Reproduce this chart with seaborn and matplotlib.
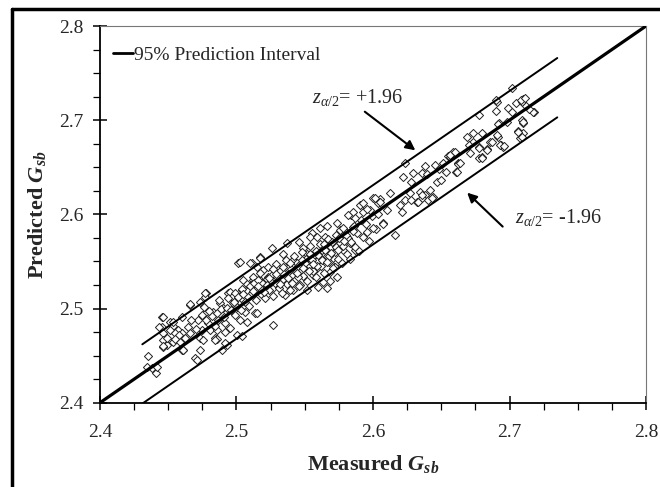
import pandas as pd
import seaborn as sns
import matplotlib.pyplot as plt
from matplotlib.lines import Line2D

# Measured vs predicted Gsb (grouped by region)
low_pts = [
    (2.4452, 2.4913), (2.4513, 2.486), (2.4452, 2.4807), (2.4464, 2.4737), (2.4537, 2.4814),
    (2.4598, 2.4913), (2.4659, 2.5037), (2.4733, 2.5072), (2.4777, 2.5161), (2.4769, 2.5125),
    (2.4573, 2.4772), (2.4598, 2.4737), (2.4647, 2.4807), (2.4659, 2.4737), (2.4464, 2.4666),
    (2.4488, 2.4613), (2.4464, 2.4594), (2.4537, 2.4648), (2.4586, 2.4648), (2.461, 2.4559),
    (2.472, 2.4878), (2.4744, 2.4772), (2.4733, 2.4684), (2.4757, 2.4666), (2.4793, 2.4843),
    (2.4806, 2.4772), (2.4842, 2.4684), (2.4854, 2.4772), (2.4879, 2.5055), (2.494, 2.5161),
    (2.4952, 2.5178), (2.4964, 2.5125), (2.4903, 2.5002), (2.483, 2.4966), (2.4769, 2.4955),
    (2.4866, 2.4878), (2.4916, 2.4843), (2.4916, 2.4754), (2.4891, 2.4559), (2.4989, 2.4931),
    (2.5001, 2.5019), (2.5062, 2.4966), (2.5026, 2.4878), (2.5074, 2.486), (2.4976, 2.5055),
    (2.505, 2.509), (2.5099, 2.5196), (2.5037, 2.5196), (2.5123, 2.5302), (2.5136, 2.4949),
    (2.4733, 2.4559), (2.4696, 2.4471), (2.4708, 2.4453), (2.4354, 2.4496), (2.4342, 2.4382),
    (2.4378, 2.4365), (2.441, 2.4318), (2.4415, 2.4382), (2.4459, 2.4906), (2.4434, 2.48),
    (2.5013, 2.5486), (2.5111, 2.548), (2.5172, 2.5544), (2.4769, 2.5168), (2.4659, 2.5045),
    (2.5264, 2.4825), (2.4854, 2.4673), (2.4928, 2.4613), (2.5001, 2.4719), (2.5037, 2.4708),
    (2.4537, 2.486), (2.4513, 2.4772), (2.4549, 2.4737), (2.4598, 2.4559), (2.4488, 2.4684),
    (2.4464, 2.4602), (2.4916, 2.463), (2.4842, 2.4666), (2.4605, 2.4559), (2.5148, 2.4949),
    (2.4952, 2.479), (2.478, 2.488), (2.482, 2.492), (2.486, 2.495), (2.489, 2.499),
    (2.493, 2.501), (2.496, 2.498), (2.498, 2.507), (2.484, 2.481), (2.480, 2.497),
    (2.491, 2.491), (2.470, 2.478), (2.467, 2.488), (2.475, 2.493), (2.462, 2.469),
    (2.458, 2.472), (2.455, 2.468), (2.494, 2.511), (2.487, 2.509), (2.499, 2.517),
    (2.476, 2.502),
]

core_pts = [
    (2.5839, 2.5993), (2.5734, 2.5904), (2.5665, 2.5876), (2.5612, 2.5851), (2.555, 2.5798),
    (2.5538, 2.5762), (2.5591, 2.5756), (2.546, 2.571), (2.5367, 2.5699), (2.5257, 2.564),
    (2.5172, 2.5533), (2.5099, 2.548), (2.5026, 2.5497), (2.5856, 2.5868), (2.5807, 2.5762),
    (2.5868, 2.562), (2.5734, 2.5497), (2.5721, 2.5444), (2.5734, 2.5338), (2.5685, 2.5295),
    (2.5635, 2.5284), (2.5562, 2.5356), (2.5465, 2.5249), (2.5392, 2.5302), (2.5355, 2.5143),
    (2.527, 2.5214), (2.5232, 2.5338), (2.5172, 2.5302), (2.5123, 2.5268), (2.505, 2.5302),
    (2.5074, 2.5196), (2.5343, 2.5584), (2.5416, 2.5515), (2.5513, 2.5584), (2.5624, 2.5584),
    (2.566, 2.5515), (2.5538, 2.548), (2.5465, 2.5444), (2.5294, 2.5444), (2.5196, 2.5409),
    (2.5319, 2.5373), (2.5587, 2.5426), (2.5685, 2.539), (2.5758, 2.571), (2.5782, 2.562),
    (2.5831, 2.5692), (2.5685, 2.5692), (2.5648, 2.5762), (2.549, 2.5639), (2.5148, 2.5444),
    (2.5416, 2.5196), (2.5513, 2.5196), (2.5599, 2.5231), (2.566, 2.5214),
    (2.501, 2.512), (2.503, 2.498), (2.504, 2.521), (2.506, 2.507), (2.508, 2.526),
    (2.509, 2.503), (2.511, 2.516), (2.512, 2.534), (2.514, 2.509), (2.515, 2.522),
    (2.517, 2.538), (2.518, 2.515), (2.519, 2.527), (2.521, 2.511), (2.522, 2.531),
    (2.523, 2.544), (2.524, 2.520), (2.526, 2.536), (2.527, 2.513), (2.528, 2.527),
    (2.529, 2.547), (2.531, 2.522), (2.532, 2.540), (2.533, 2.517), (2.534, 2.531),
    (2.536, 2.552), (2.537, 2.526), (2.538, 2.543), (2.539, 2.520), (2.541, 2.535),
    (2.542, 2.556), (2.543, 2.530), (2.544, 2.548), (2.546, 2.524), (2.547, 2.541),
    (2.548, 2.560), (2.549, 2.535), (2.551, 2.553), (2.552, 2.529), (2.553, 2.546),
    (2.554, 2.566), (2.556, 2.540), (2.557, 2.557), (2.558, 2.533), (2.559, 2.550),
    (2.561, 2.569), (2.562, 2.545), (2.563, 2.562), (2.564, 2.538), (2.566, 2.556),
    (2.567, 2.574), (2.568, 2.549), (2.569, 2.565), (2.571, 2.543), (2.572, 2.560),
    (2.573, 2.578), (2.574, 2.553), (2.576, 2.570), (2.577, 2.548), (2.578, 2.566),
    (2.579, 2.583), (2.581, 2.558), (2.582, 2.575), (2.583, 2.553), (2.584, 2.571),
    (2.586, 2.588), (2.587, 2.565), (2.588, 2.580), (2.590, 2.561), (2.591, 2.594),
    (2.593, 2.576), (2.595, 2.590), (2.597, 2.572), (2.599, 2.598), (2.602, 2.584),
    (2.604, 2.600), (2.505, 2.515), (2.510, 2.524), (2.513, 2.527), (2.516, 2.530),
    (2.520, 2.518), (2.525, 2.528), (2.530, 2.533), (2.535, 2.537), (2.540, 2.542),
    (2.545, 2.545), (2.550, 2.548), (2.555, 2.552), (2.560, 2.557), (2.565, 2.562),
    (2.570, 2.571), (2.575, 2.575), (2.580, 2.578), (2.585, 2.582), (2.527, 2.542),
    (2.532, 2.526), (2.545, 2.533), (2.553, 2.540), (2.558, 2.561), (2.563, 2.552),
    (2.568, 2.556), (2.573, 2.565), (2.548, 2.552), (2.538, 2.532), (2.518, 2.521),
    (2.522, 2.525), (2.524, 2.532), (2.529, 2.537), (2.534, 2.544), (2.539, 2.548),
    (2.544, 2.538), (2.549, 2.543), (2.554, 2.558), (2.559, 2.545), (2.564, 2.568),
    (2.569, 2.559), (2.574, 2.562), (2.579, 2.572), (2.516, 2.524), (2.512, 2.519),
    (2.541, 2.527), (2.556, 2.547), (2.566, 2.549), (2.576, 2.583),
]

mid_pts = [
    (2.622, 2.640), (2.6295, 2.6435), (2.638, 2.651), (2.6454, 2.652), (2.648, 2.6478),
    (2.6535, 2.645), (2.655, 2.662), (2.6356, 2.6435), (2.6397, 2.6428), (2.628, 2.6346),
    (2.647, 2.6346), (2.650, 2.637), (2.6125, 2.6223), (2.627, 2.6223), (2.6344, 2.624),
    (2.638, 2.6205), (2.6418, 2.6258), (2.6356, 2.617), (2.632, 2.6134), (2.6405, 2.615),
    (2.644, 2.6187), (2.6198, 2.6099), (2.621, 2.6028), (2.6234, 2.615), (2.600, 2.617),
    (2.605, 2.616), (2.604, 2.6117), (2.5978, 2.6046), (2.610, 2.6046), (2.5905, 2.6099),
    (2.5929, 2.6028), (2.5856, 2.6028), (2.582, 2.5993), (2.5868, 2.5958), (2.6075, 2.5904),
    (2.600, 2.5851), (2.5953, 2.5815), (2.578, 2.5851), (2.616, 2.578), (2.6015, 2.617),
    (2.605, 2.6134), (2.5953, 2.6053), (2.5929, 2.6117), (2.6075, 2.5897), (2.628, 2.615),
    (2.6332, 2.6134), (2.6356, 2.6205), (2.6429, 2.617),
]

high_pts = [
    (2.7015, 2.7337), (2.6906, 2.7195), (2.690, 2.710), (2.678, 2.706), (2.699, 2.7125),
    (2.705, 2.718), (2.7096, 2.723), (2.709, 2.7195), (2.702, 2.709), (2.718, 2.709),
    (2.6925, 2.6966), (2.698, 2.698), (2.709, 2.700), (2.710, 2.697), (2.7065, 2.688),
    (2.710, 2.6866), (2.7077, 2.6807), (2.680, 2.686), (2.6686, 2.6817), (2.6735, 2.677),
    (2.670, 2.6736), (2.6857, 2.677), (2.6918, 2.682), (2.694, 2.6736), (2.6955, 2.671),
    (2.6778, 2.671), (2.6832, 2.669), (2.678, 2.6594), (2.6588, 2.6665), (2.6564, 2.661),
    (2.6625, 2.654), (2.6514, 2.654), (2.690, 2.721), (2.717, 2.709), (2.673, 2.686),
    (2.6795, 2.661), (2.6234, 2.6548), (2.6564, 2.663), (2.660, 2.6665), (2.6625, 2.6534),
    (2.661, 2.645), (2.6612, 2.6452), (2.6637, 2.6548), (2.6711, 2.6648), (2.6869, 2.677),
    (2.693, 2.6736), (2.696, 2.6725), (2.6918, 2.6959), (2.710, 2.698), (2.7064, 2.6877),
    (2.709, 2.6824), (2.714, 2.712), (2.712, 2.7155), (2.7085, 2.721), (2.711, 2.724),
    (2.678, 2.670), (2.6832, 2.6683), (2.6906, 2.6842), (2.6795, 2.6594),
]

# reference lines
line_x = [2.4, 2.8]
pi_x = [2.431, 2.735]
pi_upper_offset = 0.031
pi_lower_offset = -0.032

points = low_pts + core_pts + mid_pts + high_pts
df = pd.DataFrame(points, columns=["Measured", "Predicted"])

sns.set_style("ticks")
plt.rcParams["font.family"] = ["Liberation Serif", "DejaVu Serif"]
plt.rcParams["mathtext.fontset"] = "custom"
plt.rcParams["mathtext.rm"] = "Liberation Serif"
plt.rcParams["mathtext.it"] = "Liberation Serif:italic"
plt.rcParams["mathtext.bf"] = "Liberation Serif:bold"
plt.rcParams["mathtext.bfit"] = "Liberation Serif:italic:bold"

fig = plt.figure(figsize=(6.6, 4.87), dpi=100)
ax = fig.add_axes([0.1515, 0.1731, 0.8273, 0.7735])

sns.scatterplot(data=df, x="Measured", y="Predicted", marker="D", s=17,
                facecolor="white", edgecolor="#222222", linewidth=0.7, ax=ax, zorder=2)

ax.plot(line_x, line_x, color="black", lw=2.3, zorder=3)
ax.plot(pi_x, [v + pi_upper_offset for v in pi_x], color="black", lw=1.4, zorder=3)
ax.plot(pi_x, [v + pi_lower_offset for v in pi_x], color="black", lw=1.4, zorder=3)

ax.set_xlim(2.4, 2.8)
ax.set_ylim(2.4, 2.8)
ax.set_xticks([2.4, 2.5, 2.6, 2.7, 2.8])
ax.set_yticks([2.4, 2.5, 2.6, 2.7, 2.8])
minor = [2.425, 2.45, 2.475, 2.525, 2.55, 2.575, 2.625, 2.65, 2.675, 2.725, 2.75, 2.775]
ax.set_xticks(minor, minor=True)
ax.set_yticks(minor, minor=True)
ax.tick_params(which="major", direction="inout", length=10, width=1.1, labelsize=14, color="black")
ax.tick_params(axis="x", which="major", pad=10)
ax.tick_params(axis="y", which="major", pad=7)
ax.tick_params(which="minor", direction="out", length=5, width=0.9, color="black")

for side in ["left", "bottom"]:
    ax.spines[side].set_color("black")
    ax.spines[side].set_linewidth(1.3)
for side in ["top", "right"]:
    ax.spines[side].set_color("#777777")
    ax.spines[side].set_linewidth(0.8)

ax.set_xlabel(r"Measured $\mathbfit{G}_{\mathbfit{sb}}$", fontsize=16, fontweight="bold", labelpad=9)
ax.set_ylabel(r"Predicted $\mathbfit{G}_{\mathbfit{sb}}$", fontsize=16, fontweight="bold", labelpad=8)

handle = Line2D([], [], color="black", lw=2)
ax.legend(handles=[handle], labels=["95% Prediction Interval"], loc="upper left",
          bbox_to_anchor=(-0.008, 0.992), frameon=False, fontsize=14, handlelength=1.0,
          handletextpad=0.05, borderaxespad=0.5)

ax.text(2.555, 2.7245, r"$z_{\alpha/2}$= +1.96", fontsize=14.5, va="center", ha="left")
ax.text(2.704, 2.597, r"$z_{\alpha/2}$= -1.96", fontsize=14.5, va="center", ha="left")
ax.annotate("", xy=(2.631, 2.668), xytext=(2.594, 2.709),
            arrowprops=dict(arrowstyle="-|>", color="black", lw=1.5, shrinkA=0, shrinkB=0,
                            mutation_scale=14))
ax.annotate("", xy=(2.669, 2.623), xytext=(2.695, 2.587),
            arrowprops=dict(arrowstyle="-|>", color="black", lw=1.5, shrinkA=0, shrinkB=0,
                            mutation_scale=14))

# outer frame (top and left edges visible in the original)
fig.add_artist(Line2D([0.018, 1.0], [0.982, 0.982], color="black", lw=2.5, transform=fig.transFigure))
fig.add_artist(Line2D([0.018, 0.018], [0.0, 0.982], color="black", lw=2.5, transform=fig.transFigure))

fig.savefig("out.png", dpi=100)
